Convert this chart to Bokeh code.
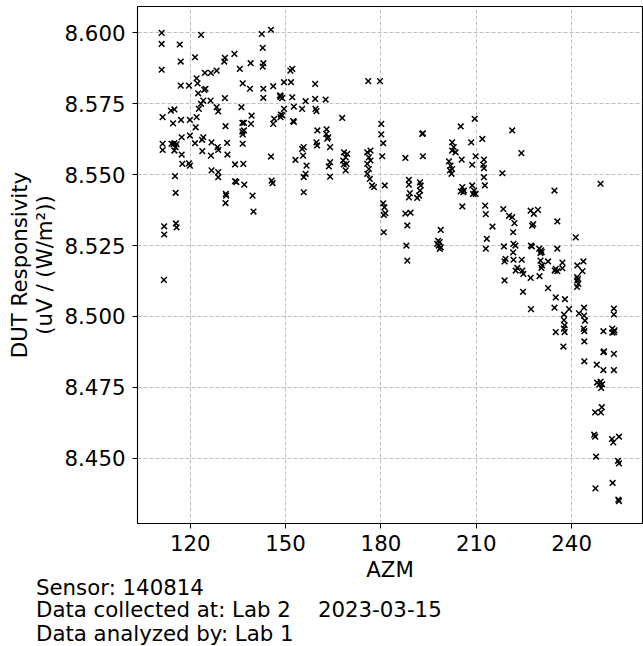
from bokeh.plotting import figure
from bokeh.models import Range1d, FixedTicker, PrintfTickFormatter, Title
from bokeh.embed import file_html
from bokeh.resources import INLINE

azm = [
    111.0, 111.0, 111.0, 116.7, 117.0, 123.4, 121.5, 117.0, 119.6, 122.0,
    122.3, 124.6, 126.5, 128.3, 130.9, 130.7, 133.9, 135.6, 139.0, 136.5,
    138.8, 142.5, 145.4, 142.8, 143.0, 142.8, 143.0, 146.1, 143.0, 148.2,
    124.8, 124.4, 122.5, 126.4, 128.3, 128.8, 130.9, 136.1, 139.3, 139.1,
    136.4, 136.9, 136.4, 136.9, 146.4, 146.1, 148.5, 111.3, 113.9, 115.0,
    114.6, 117.1, 119.9, 122.0, 121.7, 122.7, 123.4, 124.1, 131.1, 111.3,
    111.3, 114.1, 115.0, 115.4, 115.0, 114.7, 115.7, 117.3, 117.3, 117.5,
    119.9, 119.6, 119.9, 121.5, 123.7, 124.1, 123.8, 126.7, 126.5, 128.6,
    128.8, 131.6, 131.7, 134.1, 126.7, 128.8, 128.8, 134.1, 134.5, 137.0,
    131.2, 131.3, 139.6, 136.5, 136.5, 136.7, 145.4, 145.6, 145.9, 115.2,
    115.4, 111.8, 111.8, 115.5, 115.7, 111.7, 131.1, 139.9,
    152.1, 151.5, 149.5, 151.7, 159.3, 176.0, 179.7, 148.4, 148.9, 148.4,
    152.1, 159.3, 162.6, 156.3, 152.6, 155.2, 159.4, 159.7, 149.5, 149.0,
    148.4, 152.4, 152.6, 167.8, 160.0, 162.9, 162.8, 163.4, 163.1, 159.7,
    159.9, 155.7, 155.2, 164.0, 153.1, 155.5, 156.6, 156.3, 155.7, 164.0,
    163.6, 164.0, 168.4, 169.4, 168.9, 168.1, 169.2, 168.3, 168.9, 175.7,
    176.7, 176.2, 176.7, 175.7, 176.2, 175.7, 176.5, 177.2, 177.8, 180.1,
    180.1, 180.7, 180.4, 181.2, 187.7, 193.2, 193.0, 193.2, 188.8, 188.8,
    189.1, 188.8, 192.3, 192.5, 192.3, 192.0, 155.7, 202.4, 202.9, 202.4,
    203.5, 201.4, 201.9, 202.4, 201.7, 202.2,
    209.5, 205.1, 221.3, 208.4, 211.9, 224.2, 205.4, 209.8, 208.7, 212.4,
    212.2, 212.4, 218.2, 212.4, 212.7, 205.6, 206.1, 205.9, 205.1, 208.7,
    209.3, 209.0, 209.8, 234.6, 249.1,
    191.4, 180.7, 181.1, 181.4, 180.9, 180.9, 187.7, 189.3, 188.3, 188.0,
    188.3, 198.8, 198.0, 198.5, 197.7, 198.2, 198.8, 198.5,
    205.6, 212.8, 213.0, 218.5, 220.3, 221.3, 222.0, 215.1, 227.1, 228.1,
    229.4, 227.9, 227.6, 221.6, 235.5, 213.3, 213.0, 218.7, 221.7, 222.3,
    221.6, 221.7, 227.5, 227.2, 229.8, 230.4, 230.6, 230.2, 235.5, 241.3,
    219.2, 218.9, 224.3, 222.9, 222.4, 224.5, 224.8, 218.9, 227.1, 230.2,
    230.7, 230.5, 232.6, 229.9, 235.0, 235.5, 234.7, 237.1, 237.1, 241.8,
    243.7, 243.4, 241.7, 241.8, 242.1, 241.7, 242.0, 224.7, 232.6, 235.0,
    237.9, 227.2, 234.6, 239.2, 237.6, 243.9, 242.3, 243.9, 244.2, 237.6,
    237.8, 237.6, 235.0, 237.8, 243.8, 244.0, 244.0, 253.3, 253.3, 250.0,
    252.8, 253.3, 253.5, 252.8, 237.4, 250.0, 250.2, 253.3, 244.0, 247.9,
    250.0, 253.3,
    248.0, 249.1, 249.6, 249.3, 248.7, 247.4, 249.5, 249.2, 247.1, 247.4,
    252.7, 253.1, 254.9, 247.7, 254.6, 254.9, 247.5, 252.9, 254.7, 254.9,
]

resp = [
    8.6000, 8.5961, 8.5870, 8.5959, 8.5899, 8.5993, 8.5914, 8.5814, 8.5814, 8.5840,
    8.5822, 8.5859, 8.5859, 8.5867, 8.5912, 8.5899, 8.5926, 8.5873, 8.5893, 8.5822,
    8.5803, 8.5996, 8.6011, 8.5947, 8.5893, 8.5881, 8.5803, 8.5812, 8.5771, 8.5779,
    8.5803, 8.5799, 8.5787, 8.5761, 8.5738, 8.5723, 8.5770, 8.5738, 8.5708, 8.5679,
    8.5683, 8.5683, 8.5652, 8.5656, 8.5697, 8.5679, 8.5712, 8.5703, 8.5726, 8.5730,
    8.5681, 8.5693, 8.5693, 8.5703, 8.5667, 8.5732, 8.5750, 8.5761, 8.5671, 8.5609,
    8.5587, 8.5609, 8.5611, 8.5597, 8.5585, 8.5607, 8.5607, 8.5632, 8.5571, 8.5538,
    8.5638, 8.5540, 8.5532, 8.5611, 8.5623, 8.5632, 8.5583, 8.5614, 8.5567, 8.5597,
    8.5587, 8.5612, 8.5571, 8.5536, 8.5515, 8.5509, 8.5491, 8.5477, 8.5474, 8.5465,
    8.5432, 8.5426, 8.5426, 8.5642, 8.5609, 8.5538, 8.5564, 8.5479, 8.5470, 8.5495,
    8.5436, 8.5318, 8.5289, 8.5328, 8.5314, 8.5129, 8.5400, 8.5370,
    8.5873, 8.5867, 8.5826, 8.5826, 8.5820, 8.5830, 8.5830, 8.5779, 8.5770, 8.5774,
    8.5773, 8.5767, 8.5765, 8.5759, 8.5740, 8.5732, 8.5732, 8.5724, 8.5732, 8.5709,
    8.5703, 8.5689, 8.5686, 8.5700, 8.5656, 8.5660, 8.5644, 8.5632, 8.5627, 8.5614,
    8.5603, 8.5597, 8.5591, 8.5597, 8.5552, 8.5567, 8.5532, 8.5503, 8.5491, 8.5544,
    8.5529, 8.5493, 8.5579, 8.5573, 8.5561, 8.5550, 8.5538, 8.5536, 8.5515, 8.5579,
    8.5585, 8.5561, 8.5550, 8.5538, 8.5520, 8.5503, 8.5485, 8.5462, 8.5456, 8.5679,
    8.5642, 8.5611, 8.5565, 8.5462, 8.5559, 8.5565, 8.5644, 8.5646, 8.5482, 8.5465,
    8.5435, 8.5420, 8.5473, 8.5462, 8.5444, 8.5426, 8.5438, 8.5614, 8.5597, 8.5585,
    8.5579, 8.5547, 8.5532, 8.5520, 8.5515, 8.5503,
    8.5697, 8.5670, 8.5656, 8.5614, 8.5626, 8.5576, 8.5553, 8.5565, 8.5535, 8.5553,
    8.5535, 8.5523, 8.5505, 8.5491, 8.5462, 8.5456, 8.5444, 8.5438, 8.5441, 8.5462,
    8.5444, 8.5432, 8.5432, 8.5444, 8.5468,
    8.5418, 8.5399, 8.5385, 8.5364, 8.5358, 8.5297, 8.5363, 8.5366, 8.5321, 8.5250,
    8.5197, 8.5305, 8.5267, 8.5262, 8.5256, 8.5250, 8.5244, 8.5238,
    8.5388, 8.5391, 8.5361, 8.5379, 8.5355, 8.5350, 8.5329, 8.5317, 8.5373, 8.5362,
    8.5376, 8.5326, 8.5320, 8.5297, 8.5335, 8.5274, 8.5239, 8.5247, 8.5256, 8.5250,
    8.5226, 8.5200, 8.5247, 8.5250, 8.5239, 8.5233, 8.5227, 8.5224, 8.5239, 8.5279,
    8.5203, 8.5194, 8.5200, 8.5171, 8.5162, 8.5162, 8.5150, 8.5127, 8.5136, 8.5197,
    8.5180, 8.5171, 8.5194, 8.5142, 8.5168, 8.5160, 8.5162, 8.5190, 8.5170, 8.5180,
    8.5194, 8.5160, 8.5139, 8.5127, 8.5115, 8.5104, 8.5133, 8.5087, 8.5100, 8.5067,
    8.5061, 8.5026, 8.5031, 8.5026, 8.5007, 8.5031, 8.5011, 8.5003, 8.4985, 8.4987,
    8.4969, 8.4957, 8.4945, 8.4945, 8.4957, 8.4948, 8.4912, 8.5028, 8.5007, 8.4948,
    8.4957, 8.4945, 8.4951, 8.4943, 8.4894, 8.4874, 8.4877, 8.4868, 8.4842, 8.4830,
    8.4811, 8.4811,
    8.4767, 8.4770, 8.4761, 8.4748, 8.4760, 8.4662, 8.4680, 8.4662, 8.4583, 8.4576,
    8.4568, 8.4556, 8.4576, 8.4506, 8.4491, 8.4482, 8.4394, 8.4413, 8.4354, 8.4349,
]

x_ticks = [120, 150, 180, 210, 240]
y_ticks = [8.450, 8.475, 8.500, 8.525, 8.550, 8.575, 8.600]

x_label = "AZM"
y_label = "DUT Responsivity\n(uV / (W/m\u00b2))"
info_lines = [
    "Sensor: 140814",
    "Data collected at: Lab 2 \u00a0\u00a0 2023-03-15",
    "Data analyzed by: Lab 1",
]

FONT = "DejaVu Sans"
FS = "21.3px"

p = figure(
    width=643, height=646,
    x_range=Range1d(103.4, 262.3), y_range=Range1d(8.4270, 8.6093),
    output_backend="svg", toolbar_location=None,
    min_border_left=137, min_border_right=1, min_border_top=6, min_border_bottom=123,
)
p.background_fill_color = "white"
p.border_fill_color = "white"
p.outline_line_color = "black"
p.outline_line_width = 1.1

p.scatter(azm, resp, marker="x", size=8, line_color="black", line_width=1.5)

p.xaxis.ticker = FixedTicker(ticks=x_ticks)
p.yaxis.ticker = FixedTicker(ticks=y_ticks)
p.yaxis.formatter = PrintfTickFormatter(format="%.3f")

for ax in (p.xaxis[0], p.yaxis[0]):
    ax.axis_line_color = "black"
    ax.major_tick_line_color = "black"
    ax.major_tick_in = 0
    ax.major_tick_out = 5
    ax.minor_tick_line_color = None
    ax.major_label_text_font = FONT
    ax.major_label_text_font_size = FS
    ax.major_label_text_color = "black"
    ax.axis_label_text_font = FONT
    ax.axis_label_text_font_size = FS
    ax.axis_label_text_font_style = "normal"
    ax.axis_label_text_color = "black"

p.xaxis.axis_label = x_label
p.yaxis.axis_label = y_label
p.yaxis.axis_label_text_line_height = 1.0
p.xaxis.major_label_standoff = 6
p.yaxis.major_label_standoff = 7
p.xaxis.axis_label_standoff = 3
p.yaxis.axis_label_standoff = 5

p.grid.grid_line_color = "#b0b0b0"
p.grid.grid_line_dash = "4 2"
p.grid.grid_line_width = 0.8

standoffs = [-31, 20, -26]
for txt, so in zip(info_lines, standoffs):
    p.add_layout(Title(text=txt, align="left", offset=-101.5, standoff=so,
                       text_font=FONT, text_font_size=FS, text_font_style="normal",
                       text_color="black"), "below")

open("out.html", "w").write(file_html(p, INLINE))
